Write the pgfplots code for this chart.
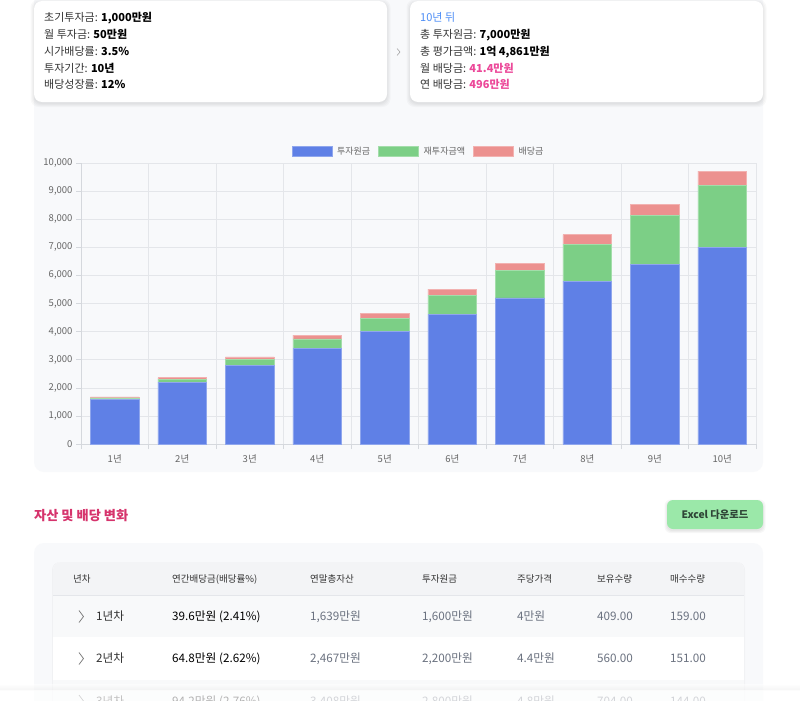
\documentclass[border=0pt]{standalone}
\usepackage{pgfplots}
\pgfplotsset{compat=1.18}
\usepackage{fontspec}
\setmainfont{Noto Sans CJK KR}

\definecolor{panel}{HTML}{F8F9FB}
\definecolor{gridc}{HTML}{E4E6EA}
\definecolor{axisc}{HTML}{D5D8DD}
\definecolor{tickc}{HTML}{666666}
\definecolor{barblue}{HTML}{5F80E6}
\definecolor{bargreen}{HTML}{7CCF86}
\definecolor{barred}{HTML}{EC918F}
\definecolor{labc}{HTML}{333333}
\definecolor{bluet}{HTML}{4C8DF6}
\definecolor{pinkt}{HTML}{EC4899}
\definecolor{titlec}{HTML}{D6336C}
\definecolor{btn}{HTML}{9BE8A9}
\definecolor{btntext}{HTML}{2E4536}
\definecolor{headbg}{HTML}{F3F4F6}
\definecolor{rowbg}{HTML}{F8F9FA}
\definecolor{bodyc}{HTML}{6B7280}

\newcommand\cardfont{\fontsize{11}{13}\selectfont}
\newcommand\tickfont{\fontsize{9.5}{11}\selectfont}

% soft shadow: a few faint rounded boxes below a shape
\newcommand\softshadow[4]{%
  \foreach \s in {0.5,1.5,2.5,3.5}{
    \fill[black, opacity=0.022, rounded corners=8pt] (#1-\s,#2-\s+2) rectangle (#3+\s,#4+\s+1.5);
  }}

% one table row: baseline y, then the seven cells
\newcommand\tablerow[8]{%
  \draw[black!55, line width=0.7pt] (79,#1-10) -- (83.5,#1-4) -- (79,#1+2);
  \begin{scope}[every node/.style={anchor=base west, inner sep=0pt, font=\fontsize{11.7}{13}\selectfont, text=bodyc}]
  \node[text=labc] at (96,#1) {#2};
  \node[text=black] at (172,#1) {#3};
  \node at (310,#1) {#4};
  \node at (422,#1) {#5};
  \node at (517,#1) {#6};
  \node at (597,#1) {#7};
  \node at (670,#1) {#8};
  \end{scope}}

\begin{document}
\begin{tikzpicture}[x=1pt,y=-1pt]
\fill[white] (0,0) rectangle (800,701);
\clip (0,0) rectangle (800,701);

% chart panel
\fill[panel, rounded corners=10pt] (34,-20) rectangle (763,472);

% summary cards
\softshadow{34}{1}{387}{102}
\softshadow{410}{1}{763}{102}
\fill[white, rounded corners=8pt] (34,1) rectangle (387,102);
\fill[white, rounded corners=8pt] (410,1) rectangle (763,102);

\begin{scope}[every node/.style={anchor=base west, font=\cardfont, text=labc, inner sep=0pt}]
\node at (44,22) {초기투자금: \textcolor{black}{\bfseries 1,000만원}};
\node at (44,39) {월 투자금: \textcolor{black}{\bfseries 50만원}};
\node at (44,55.5) {시가배당률: \textcolor{black}{\bfseries 3.5\%}};
\node at (44,72) {투자기간: \textcolor{black}{\bfseries 10년}};
\node at (44,88.5) {배당성장률: \textcolor{black}{\bfseries 12\%}};
\node[text=bluet] at (420,22) {10년 뒤};
\node at (420,39) {총 투자원금: \textcolor{black}{\bfseries 7,000만원}};
\node at (420,55.5) {총 평가금액: \textcolor{black}{\bfseries 1억 4,861만원}};
\node at (420,72) {월 배당금: \textcolor{pinkt}{\bfseries 41.4만원}};
\node at (420,88.5) {연 배당금: \textcolor{pinkt}{\bfseries 496만원}};
\end{scope}
\draw[black!35, line width=0.6pt] (397,48.5) -- (400,52) -- (397,55.5);

\begin{axis}[
  at={(81pt,-444pt)}, anchor=south west,
  width=675pt, height=281pt, scale only axis,
  xmin=-0.5, xmax=9.5, ymin=0, ymax=10000,
  ybar stacked, bar width=0.72,
  xtick={0,...,9},
  xticklabels={1년,2년,3년,4년,5년,6년,7년,8년,9년,10년},
  minor xtick={-0.5,0.5,...,9.5},
  xminorgrids,
  major x tick style={draw=none},
  minor x tick style={axisc, line width=0.6pt},
  ytick={0,1000,...,10000},
  ymajorgrids,
  y tick style={axisc, line width=0.6pt},
  grid style={gridc, line width=0.6pt},
  minor grid style={gridc, line width=0.6pt},
  axis lines*=left,
  axis line style={axisc, line width=0.8pt},
  tick align=outside,
  major tick length=5pt, minor tick length=5pt,
  ticklabel style={font=\tickfont, text=tickc},
  xticklabel style={yshift=-2pt},
  scaled y ticks=false,
  /pgf/number format/1000 sep={,},
  /pgf/number format/assume math mode=true,
  legend image code/.code={\fill[#1] (0pt,-5pt) rectangle (40pt,5pt);},
  legend style={at={(0.5,1)}, anchor=south, yshift=3pt, draw=none, fill=none,
    font=\fontsize{9}{11}\selectfont, text=tickc, legend columns=-1,
    /tikz/every odd column/.append style={column sep=3pt},
    /tikz/every even column/.append style={column sep=6pt}},
]
\addplot[fill=barblue, draw=barblue!70!white, line width=0.5pt] coordinates {
(0,1600) (1,2200) (2,2800) (3,3400) (4,4000) (5,4600) (6,5200) (7,5800) (8,6400) (9,7000)};
\addplot[fill=bargreen, draw=bargreen!70!white, line width=0.5pt] coordinates {
(0,40) (1,100) (2,210) (3,337) (4,484) (5,702) (6,992) (7,1317) (8,1725) (9,2217)};
\addplot[fill=barred, draw=barred!70!white, line width=0.5pt] coordinates {
(0,40) (1,65) (2,94) (3,142) (4,178) (5,214) (6,249) (7,332) (8,416) (9,496)};
\legend{투자원금,재투자금액,배당금}
\end{axis}

% section title and button
\node[anchor=base west, inner sep=0pt, font=\fontsize{13.2}{15}\selectfont\bfseries, text=titlec] at (34,520) {자산 및 배당 변화};
\foreach \s in {0.5,1.5,2.5}{
  \fill[black, opacity=0.03, rounded corners=6pt] (667-\s,500-\s+2) rectangle (763+\s,529+\s+1.5);
}
\fill[btn, rounded corners=6pt] (667,500) rectangle (763,529);
\node[font=\fontsize{10.3}{12}\selectfont\bfseries, text=btntext] at (715,514.5) {Excel 다운로드};

% table
\fill[panel, rounded corners=10pt] (34,543) rectangle (763,740);
\fill[black, opacity=0.03, rounded corners=8pt] (52,562) rectangle (745,740);
\fill[white, rounded corners=8pt] (53,562) rectangle (744,740);
\begin{scope}
\clip[rounded corners=8pt] (53,562) rectangle (744,740);
\fill[headbg] (53,562) rectangle (744,595);
\fill[rowbg] (53,596) rectangle (744,637);
\fill[rowbg] (53,680) rectangle (744,740);
\draw[gridc, line width=0.6pt] (53,595.5) -- (744,595.5);
\end{scope}

\begin{scope}[every node/.style={anchor=base west, inner sep=0pt, font=\fontsize{9.5}{11}\selectfont, text=labc}]
\node at (73,582) {년차};
\node at (172,582) {연간배당금(배당률\%)};
\node at (310,582) {연말총자산};
\node at (422,582) {투자원금};
\node at (517,582) {주당가격};
\node at (597,582) {보유수량};
\node at (670,582) {매수수량};
\end{scope}

\tablerow{620.5}{1년차}{39.6만원 (2.41\%)}{1,639만원}{1,600만원}{4만원}{409.00}{159.00}
\tablerow{662.5}{2년차}{64.8만원 (2.62\%)}{2,467만원}{2,200만원}{4.4만원}{560.00}{151.00}
\tablerow{705}{3년차}{94.2만원 (2.76\%)}{3,408만원}{2,800만원}{4.8만원}{704.00}{144.00}

% bottom fade
\shade[top color=black!0, bottom color=black!7, opacity=0.5] (0,684) rectangle (800,690);
\fill[white, opacity=0.7] (0,690) rectangle (800,701);
\end{tikzpicture}
\end{document}
